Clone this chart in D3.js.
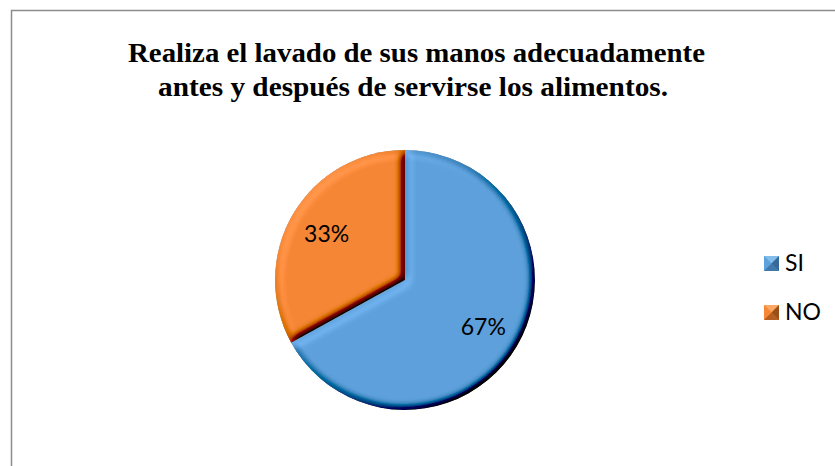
<!DOCTYPE html>
<html>
<head>
<meta charset="utf-8">
<script src="https://cdn.jsdelivr.net/npm/d3@7"></script>
<style>
  html, body { margin: 0; padding: 0; background: #fff; }
  svg { display: block; }
</style>
</head>
<body>
<svg id="chart" width="835" height="466"></svg>
<script>
const titleLines = ["Realiza el lavado de sus manos adecuadamente", "antes y después de servirse los alimentos."];
const categories = ["SI", "NO"];
const values = [67, 33];
const valueLabels = ["67%", "33%"];

const W = 835, H = 466;
const svg = d3.select("#chart");

const color = d3.scaleOrdinal().domain(categories).range(["#5ea1dc", "#f58735"]);
const colorLight = d3.scaleOrdinal().domain(categories).range(["#8cc4f0", "#fbb070"]);
const colorDark = d3.scaleOrdinal().domain(categories).range(["#2f5f8c", "#8a4612"]);

const defs = svg.append("defs");
const f = defs.append("filter").attr("id", "bevel")
  .attr("x", "-10%").attr("y", "-10%").attr("width", "120%").attr("height", "120%");
f.append("feGaussianBlur").attr("in", "SourceAlpha").attr("stdDeviation", 4.5).attr("result", "blur");
f.append("feDiffuseLighting").attr("in", "blur").attr("surfaceScale", 7)
  .attr("diffuseConstant", 0.577).attr("lighting-color", "#ffffff").attr("result", "light")
  .append("feDistantLight").attr("azimuth", 225).attr("elevation", 60);
f.append("feComposite").attr("in", "SourceGraphic").attr("in2", "light")
  .attr("operator", "arithmetic").attr("k1", 2).attr("k2", 0).attr("k3", 0.4).attr("k4", -0.2)
  .attr("result", "shaded");
f.append("feComposite").attr("in", "shaded").attr("in2", "SourceAlpha").attr("operator", "in");

// frame (left and top edges visible)
svg.append("path")
  .attr("d", `M11.5,${H} L11.5,10.5 L${W},10.5`)
  .attr("fill", "none").attr("stroke", "#8c8c8c").attr("stroke-width", 1.5);

// title
const titleWidths = [577, 510];
const titleCenters = [416.5, 413];
const title = svg.append("text")
  .attr("text-anchor", "middle")
  .attr("font-family", "'Liberation Serif', 'Times New Roman', serif")
  .attr("font-weight", "bold").attr("font-size", 26.5).attr("fill", "#000");
titleLines.forEach((t, i) => {
  title.append("tspan").attr("x", titleCenters[i]).attr("y", 62 + i * 33.5)
    .attr("textLength", titleWidths[i]).attr("lengthAdjust", "spacingAndGlyphs").text(t);
});

// pie
const cx = 405, cy = 280, r = 130;
const pie = d3.pie().sort(null).value(d => d.value);
const data = categories.map((c, i) => ({ cat: c, value: values[i], label: valueLabels[i] }));
const arcs = pie(data);
const arc = d3.arc().innerRadius(0).outerRadius(r);
const labelArc = d3.arc().innerRadius(r * 0.7).outerRadius(r * 0.7);

const g = svg.append("g").attr("transform", `translate(${cx},${cy})`);
g.selectAll("path.slice").data(arcs).join("path")
  .attr("class", "slice")
  .attr("d", arc)
  .attr("fill", d => color(d.data.cat))
  .attr("filter", "url(#bevel)");

g.selectAll("text.lbl").data(arcs).join("text")
  .attr("class", "lbl")
  .attr("transform", d => { const [x, y] = labelArc.centroid(d); return `translate(${x},${y})`; })
  .attr("text-anchor", "middle").attr("dy", "0.36em")
  .attr("font-family", "Lato, 'Open Sans', sans-serif").attr("font-size", 23).attr("fill", "#000")
  .text(d => d.data.label);

// legend
const legend = svg.append("g").attr("transform", "translate(764,256)");
const s = 15;
const items = legend.selectAll("g").data(categories).join("g")
  .attr("transform", (d, i) => `translate(0,${i * 49})`);
items.append("rect").attr("width", s).attr("height", s).attr("fill", d => color(d));
items.append("path").attr("d", `M0,0 L${s},0 L${s/2},${s/2} Z`).attr("fill", d => colorLight(d)).attr("opacity", 0.8);
items.append("path").attr("d", `M0,0 L${s/2},${s/2} L0,${s} Z`).attr("fill", d => color(d));
items.append("path").attr("d", `M${s},0 L${s},${s} L${s/2},${s/2} Z`).attr("fill", d => colorDark(d)).attr("opacity", 0.85);
items.append("path").attr("d", `M0,${s} L${s/2},${s/2} L${s},${s} Z`).attr("fill", d => colorDark(d)).attr("opacity", 0.6);
items.append("text").attr("x", 21).attr("y", s).attr("font-family", "Lato, 'Open Sans', sans-serif")
  .attr("font-size", 23).attr("fill", "#000").text(d => d);
</script>
</body>
</html>
